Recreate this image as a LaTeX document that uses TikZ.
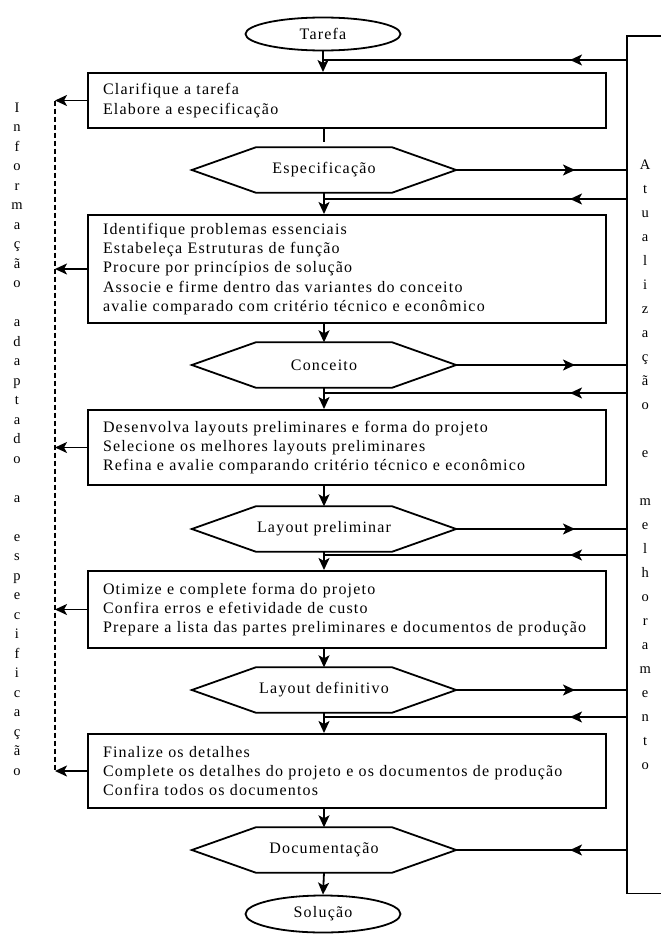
\documentclass[tikz,border=0pt]{standalone}
\usepackage{fontspec}
\setmainfont{Liberation Serif}
\newfontfamily\spacedserif[LetterSpace=7.5]{Liberation Serif}
\usetikzlibrary{arrows.meta,shapes.geometric,decorations.markings}

\newcommand{\boxfont}{\spacedserif\fontsize{16}{19.3}\selectfont}
\newcommand{\colfont}{\fontsize{14.5}{19.5}\selectfont}
\newcommand{\updfont}{\fontsize{14.5}{24}\selectfont}

\tikzset{
  tip/.style={-{Stealth[length=12pt,width=11pt,inset=3pt]}},
  conn/.style={line width=1.8pt},
  arr/.style={conn, tip},
  stepbox/.style={draw, line width=2pt, minimum width=518pt, text width=488pt,
    inner xsep=15pt, inner ysep=0pt, align=left, font=\boxfont},
  hexbox/.style={minimum width=264pt, minimum height=45pt, inner sep=0pt, font=\boxfont},
  term/.style={ellipse, draw, line width=1.8pt, minimum width=155pt, minimum height=33pt,
    inner sep=0pt, font=\boxfont},
  markleft/.style={conn, postaction={decorate}, decoration={markings,
    mark=at position 57pt with {\arrow{Stealth[length=12pt,width=11pt,inset=3pt]}}}},
  markright/.style={conn, postaction={decorate}, decoration={markings,
    mark=at position -52pt with {\arrow{Stealth[length=12pt,width=11pt,inset=3pt]}}}},
  busline/.style={line width=1.8pt, dash pattern=on 5pt off 3pt},
}

\begin{document}
\begin{tikzpicture}[x=1pt,y=-1pt]
\fill[white] (0,0) rectangle (661,934);
\useasboundingbox (0,0) rectangle (661,934);

% main column
\node[term] (tarefa) at (323,34) {Tarefa};
\node[stepbox, minimum height=55pt] (box1) at (347,100.5)
  {Clarifique a tarefa\\Elabore a especificação};
\node[hexbox] (hex1) at (324,170) {Especificação};
\node[stepbox, minimum height=108pt] (box2) at (347,269)
  {Identifique problemas essenciais\\Estabeleça Estruturas de função\\Procure por princípios de solução\\Associe e firme dentro das variantes do conceito\\avalie comparado com critério técnico e econômico};
\node[hexbox] (hex2) at (324,365) {Conceito};
\node[stepbox, minimum height=75pt] (box3) at (347,447.5)
  {Desenvolva layouts preliminares e forma do projeto\\Selecione os melhores layouts preliminares\\Refina e avalie comparando critério técnico e econômico};
\node[hexbox] (hex3) at (324,529) {Layout preliminar};
\node[stepbox, minimum height=77pt] (box4) at (347,609.5)
  {Otimize e complete forma do projeto\\Confira erros e efetividade de custo\\Prepare a lista das partes preliminares e documentos de produção};
\node[hexbox] (hex4) at (324,690) {Layout definitivo};
\node[stepbox, minimum height=74pt] (box5) at (347,771)
  {Finalize os detalhes\\Complete os detalhes do projeto e os documentos de produção\\Confira todos os documentos};
\node[hexbox] (hex5) at (324,850) {Documentação};
\node[term, minimum height=37pt] (sol) at (323,914) {Solução};

% hexagon outlines
\foreach \h in {hex1,hex2,hex3,hex4,hex5}{
  \draw[line width=1.8pt, line join=miter]
    (\h.west) -- ([xshift=64pt]\h.north west) -- ([xshift=-64pt]\h.north east)
    -- (\h.east) -- ([xshift=-64pt]\h.south east) -- ([xshift=64pt]\h.south west) -- cycle;
}

% update column on the right
\node[minimum width=36pt, minimum height=857pt, inner sep=0pt, anchor=north west,
  align=center, font=\updfont] (upd) at (627,36)
  {A\\t\\u\\a\\l\\i\\z\\a\\ç\\ã\\o\\~\\e\\~\\m\\e\\l\\h\\o\\r\\a\\m\\e\\n\\t\\o};
\draw[line width=1.8pt] (upd.north east) -- (upd.north west) -- (upd.south west) -- (upd.south east);

% information column on the left
\node[align=center, font=\colfont, inner sep=0pt] (info) at (17,439)
  {I\\n\\f\\o\\r\\m\\a\\ç\\ã\\o\\~\\a\\d\\a\\p\\t\\a\\d\\o\\~\\a\\~\\e\\s\\p\\e\\c\\i\\f\\i\\c\\a\\ç\\ã\\o};
\coordinate (bustop) at (55,100.5);
\coordinate (busbot) at (55,771);
\draw[busline] (bustop) -- (busbot);

% junctions where feedback lines meet the main flow
\coordinate (fb0) at (323,60);
\coordinate (fb1) at (324,199);
\coordinate (fb2) at (324,393);
\coordinate (fb3) at (324,555);
\coordinate (fb4) at (324,717);

% main flow
\draw[arr] (tarefa.south) -- (tarefa.south |- box1.north);
\draw[conn] (box1.south -| hex1.north) -- ([yshift=5pt]hex1.north);
\draw[arr] (hex1.south) -- (hex1.south |- box2.north);
\draw[arr] (box2.south -| hex2.north) -- (hex2.north);
\draw[arr] (hex2.south) -- (hex2.south |- box3.north);
\draw[arr] (box3.south -| hex3.north) -- (hex3.north);
\draw[arr] (hex3.south) -- (hex3.south |- box4.north);
\draw[arr] (box4.south -| hex4.north) -- (hex4.north);
\draw[arr] (hex4.south) -- (hex4.south |- box5.north);
\draw[arr] (box5.south -| hex5.north) -- (hex5.north);
\draw[arr] (hex5.south) -- (sol.north);

% results sent to the update column
\draw[markright] (hex1.east) -- (hex1.east -| upd.west);
\draw[markright] (hex2.east) -- (hex2.east -| upd.west);
\draw[markright] (hex3.east) -- (hex3.east -| upd.west);
\draw[markright] (hex4.east) -- (hex4.east -| upd.west);

% feedback from the update column
\draw[markleft] (upd.west |- fb0) -- (fb0);
\draw[markleft] (upd.west |- fb1) -- (fb1);
\draw[markleft] (upd.west |- fb2) -- (fb2);
\draw[markleft] (upd.west |- fb3) -- (fb3);
\draw[markleft] (upd.west |- fb4) -- (fb4);
\draw[markleft] (upd.west |- hex5.east) -- (hex5.east);

% information passed to the left column
\draw[arr] (box1.west) -- (box1.west -| bustop);
\draw[arr] (box2.west) -- (box2.west -| bustop);
\draw[arr] (box3.west) -- (box3.west -| bustop);
\draw[arr] (box4.west) -- (box4.west -| bustop);
\draw[arr] (box5.west) -- (box5.west -| bustop);
\end{tikzpicture}
\end{document}
